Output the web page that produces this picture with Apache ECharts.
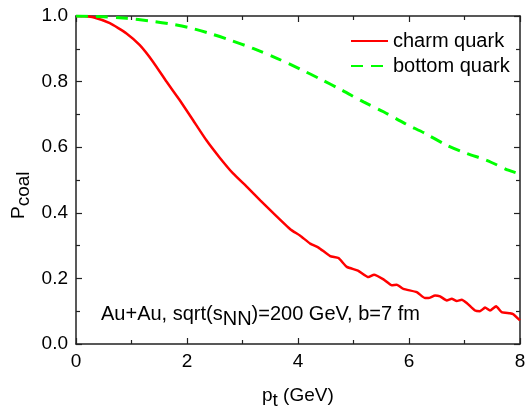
<!DOCTYPE html>
<html>
<head>
<meta charset="utf-8">
<script src="https://cdn.jsdelivr.net/npm/echarts@6/dist/echarts.min.js"></script>
<style>html,body{margin:0;padding:0;background:#fff}#c{width:527px;height:406px}</style>
</head>
<body>
<div id="c"></div>
<script>
const charmPt = [0, 0.15, 0.31, 0.61, 0.91, 1.15, 1.39, 1.63, 1.87, 2.11, 2.35, 2.59, 2.83, 3.08, 3.32, 3.56, 3.86, 4.04, 4.22, 4.37, 4.58, 4.73, 4.88, 5.08, 5.27, 5.37, 5.54, 5.69, 5.78, 5.9, 6.14, 6.29, 6.35, 6.47, 6.56, 6.68, 6.77, 6.86, 6.95, 7.04, 7.19, 7.28, 7.37, 7.46, 7.57, 7.67, 7.82, 7.88, 8.0];
const charmP  = [1.0, 0.999, 0.996, 0.978, 0.947, 0.911, 0.860, 0.800, 0.743, 0.682, 0.621, 0.568, 0.520, 0.479, 0.438, 0.398, 0.350, 0.330, 0.306, 0.294, 0.268, 0.262, 0.235, 0.224, 0.204, 0.211, 0.197, 0.179, 0.181, 0.168, 0.158, 0.140, 0.140, 0.148, 0.145, 0.133, 0.138, 0.131, 0.135, 0.125, 0.102, 0.100, 0.111, 0.102, 0.115, 0.097, 0.094, 0.091, 0.072];
const bottomPt = [0, 0.49, 0.91, 1.33, 1.69, 2.05, 2.41, 2.77, 3.19, 3.62, 4.04, 4.40, 4.79, 5.18, 5.54, 5.93, 6.29, 6.68, 7.04, 7.40, 7.79, 8.0];
const bottomP  = [1.0, 0.998, 0.993, 0.985, 0.976, 0.964, 0.947, 0.927, 0.901, 0.871, 0.838, 0.808, 0.774, 0.738, 0.708, 0.672, 0.642, 0.606, 0.581, 0.560, 0.530, 0.518];
const seriesNames = ['charm quark', 'bottom quark'];
const xTitle = ['p', 't', ' (GeV)'];
const yTitle = ['P', 'coal'];
const note = ['Au+Au, sqrt(s', 'NN', ')=200 GeV, b=7 fm'];

const FONT = "'Liberation Sans', Arial, sans-serif";
const chart = echarts.init(document.getElementById('c'), null, {renderer: 'canvas'});
const axisLine = {show: true, onZero: false, lineStyle: {color: '#222', width: 1.5}};
const tick = {show: true, inside: true, length: 6, lineStyle: {color: '#222', width: 1.2}};
const minor = {show: true, splitNumber: 2, length: 4, lineStyle: {color: '#222', width: 1.2}};
const lbl = {color: '#000', fontSize: 19, fontFamily: FONT};
function xAx(pos, showLabel) {
  return {type: 'value', min: 0, max: 8, interval: 2, position: pos,
    axisLine, axisTick: tick, minorTick: minor, splitLine: {show: false}, minorSplitLine: {show: false},
    axisLabel: Object.assign({show: showLabel, margin: 8}, lbl)};
}
function yAx(pos, showLabel) {
  return {type: 'value', min: 0, max: 1, interval: 0.2, position: pos,
    axisLine, axisTick: tick, minorTick: minor, splitLine: {show: false}, minorSplitLine: {show: false},
    axisLabel: Object.assign({show: showLabel, margin: 8, formatter: v => v.toFixed(1)}, lbl)};
}
const subRich = {
  n: {fontSize: 19, fontFamily: FONT, color: '#000', lineHeight: 20, verticalAlign: 'top'},
  s: {fontSize: 19, fontFamily: FONT, color: '#000', lineHeight: 20, verticalAlign: 'top', padding: [5, 0, 0, 0]}
};
chart.setOption({
  animation: false,
  textStyle: {fontFamily: FONT},
  grid: {left: 76, right: 7, top: 16, bottom: 62, containLabel: false, outerBoundsMode: 'none'},
  xAxis: [xAx('bottom', true), xAx('top', false)],
  yAxis: [yAx('left', true), yAx('right', false)],
  legend: {
    orient: 'vertical', left: 350, top: 31, padding: 0, itemWidth: 37, itemHeight: 14, itemGap: 5,
    itemStyle: {color: 'rgba(0,0,0,0)', borderWidth: 0},
    textStyle: {fontSize: 20, color: '#000', fontFamily: FONT},
    data: seriesNames
  },
  series: [
    {name: seriesNames[0], type: 'line', symbol: 'none', smooth: 0.15,
     lineStyle: {color: '#ff0000', width: 2.5}, itemStyle: {color: '#ff0000'},
     data: charmPt.map((x, i) => [x, charmP[i]])},
    {name: seriesNames[1], type: 'line', symbol: 'none', smooth: 0.3,
     lineStyle: {color: '#00ff00', width: 3, type: [12, 8]}, itemStyle: {color: '#00ff00'},
     data: bottomPt.map((x, i) => [x, bottomP[i]])}
  ],
  graphic: [
    {type: 'text', left: 262, top: 386,
     style: {text: '{n|' + xTitle[0] + '}{s|' + xTitle[1] + '}{n|' + xTitle[2] + '}', rich: subRich}},
    {type: 'text', x: 9, y: 219, rotation: Math.PI / 2,
     style: {text: '{n|' + yTitle[0] + '}{s|' + yTitle[1] + '}', rich: subRich}},
    {type: 'text', left: 101, top: 304,
     style: {text: '{n|' + note[0] + '}{s|' + note[1] + '}{n|' + note[2] + '}',
       rich: {n: Object.assign({}, subRich.n, {fontSize: 20}), s: Object.assign({}, subRich.s, {fontSize: 20})}}}
  ]
});
</script>
</body>
</html>
